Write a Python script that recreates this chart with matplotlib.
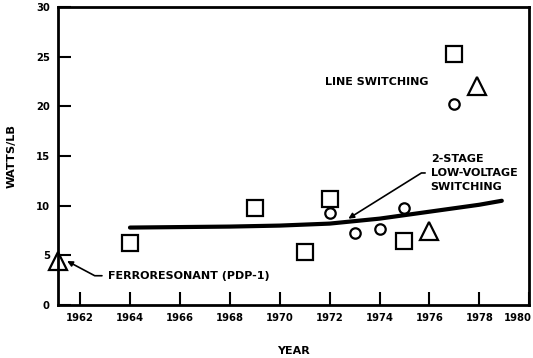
import matplotlib.pyplot as plt
from matplotlib.transforms import ScaledTranslation

# 2-stage low-voltage switching: fitted trend
trend_year = [1964, 1966, 1968, 1970, 1972, 1974, 1976, 1978, 1978.9]
trend_wpl = [7.8, 7.85, 7.9, 8.0, 8.2, 8.7, 9.4, 10.1, 10.5]

# squares
sq_year = [1964, 1969, 1971, 1972, 1975, 1977]
sq_wpl = [6.2, 9.8, 5.35, 10.7, 6.4, 25.3]

# circles
ci_year = [1972, 1973, 1974, 1975, 1977]
ci_wpl = [9.3, 7.3, 7.65, 9.75, 20.2]

# triangles
tr_year = [1961.1, 1976, 1977.9]
tr_wpl = [4.4, 7.45, 22.1]

xticks = [1962, 1964, 1966, 1968, 1970, 1972, 1974, 1976, 1978, 1980]
yticks = [0, 5, 10, 15, 20, 25, 30]

plt.rcParams['font.family'] = 'DejaVu Sans'
plt.rcParams['font.weight'] = 'bold'

fig = plt.figure(figsize=(5.33, 3.58), dpi=100)
ax = fig.add_axes([0.109, 0.148, 0.884, 0.832])

ax.plot(trend_year, trend_wpl, '-', color='black', lw=3, solid_capstyle='round')
ax.plot(sq_year, sq_wpl, 's', ms=11, mfc='white', mec='black', mew=1.6, ls='none')
ax.plot(ci_year, ci_wpl, 'o', ms=7.5, mfc='white', mec='black', mew=1.6, ls='none')
ax.plot(tr_year, tr_wpl, '^', ms=13, mfc='white', mec='black', mew=1.6, ls='none',
        clip_on=False)

ax.set_xlim(1961.12, 1980)
ax.set_ylim(0, 30)
ax.set_xticks(xticks)
ax.set_yticks(yticks)
ax.tick_params(direction='in', length=9.5, width=1.5, labelsize=7.2, pad=6)
for lab in ax.get_xticklabels() + ax.get_yticklabels():
    lab.set_fontweight('bold')
# last year label sits a little to the left, against the frame
last = ax.get_xticklabels()[-1]
last.set_transform(last.get_transform() + ScaledTranslation(-12 / 100, 0, fig.dpi_scale_trans))
for s in ax.spines.values():
    s.set_linewidth(2)

ax.set_xlabel('YEAR', fontsize=8, fontweight='bold', labelpad=16)
ax.set_ylabel('WATTS/LB', fontsize=8.2, fontweight='bold', labelpad=14)

ax.text(1973.87, 22.46, 'LINE SWITCHING', fontsize=8, fontweight='bold',
        ha='center', va='center')
ax.annotate('2-STAGE\nLOW-VOLTAGE\nSWITCHING', xy=(1972.75, 8.7), xytext=(1976.05, 13.3),
            fontsize=8, fontweight='bold', ha='left', va='center', linespacing=1.55,
            arrowprops=dict(arrowstyle='-|>', color='black', lw=1.2,
                            relpos=(0, 0.5), shrinkA=2, shrinkB=0,
                            connectionstyle='angle,angleA=0,angleB=32,rad=0'))
ax.annotate('FERRORESONANT (PDP-1)', xy=(1961.48, 4.43), xytext=(1963.1, 2.95),
            fontsize=8, fontweight='bold', ha='left', va='center',
            arrowprops=dict(arrowstyle='-|>', color='black', lw=1.2,
                            relpos=(0, 0.5), shrinkA=2, shrinkB=0,
                            connectionstyle='angle,angleA=0,angleB=-28,rad=0'))

fig.savefig('out.png', dpi=100)
